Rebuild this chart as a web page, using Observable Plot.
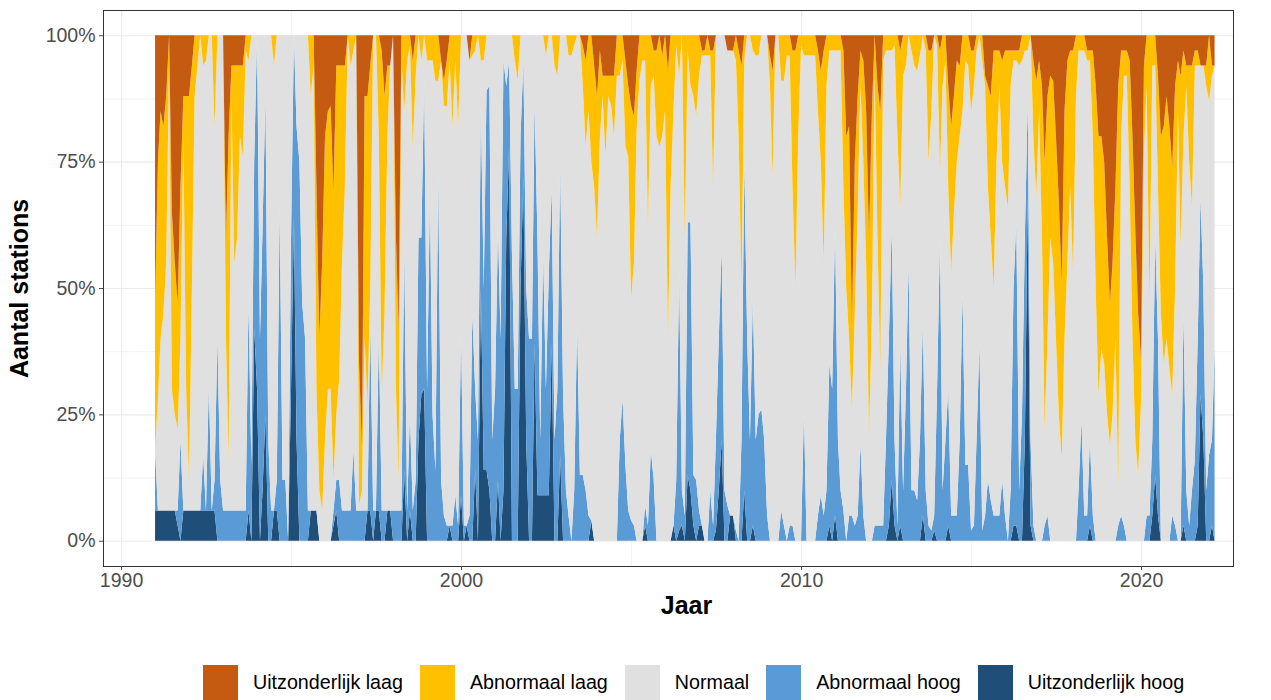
<!DOCTYPE html>
<html>
<head>
<meta charset="utf-8">
<script src="https://cdn.jsdelivr.net/npm/d3@7"></script>
<script src="https://cdn.jsdelivr.net/npm/@observablehq/plot@0.6"></script>
<style>
  html, body { margin: 0; padding: 0; background: #ffffff; }
  body { width: 1271px; height: 700px; overflow: hidden; position: relative; font-family: "Liberation Sans", Arial, sans-serif; }
  #chart svg { display: block; }
  #legend { position: absolute; top: 665px; left: 203px; display: flex; align-items: center; font-size: 19.7px; color: #000; white-space: nowrap; }
  .item { display: flex; align-items: center; margin-right: 17px; }
  .swatch { width: 35px; height: 35px; margin-right: 15px; }
</style>
</head>
<body>
<div id="chart"></div>
<div id="legend"></div>
<script>
// Monthly series, starting January 1991 (percent of stations per class)
const startYear = 1991;
const categories = ["Uitzonderlijk laag", "Abnormaal laag", "Normaal", "Abnormaal hoog", "Uitzonderlijk hoog"];
const colors = ["#c55a11", "#ffc000", "#e0e0e0", "#5b9bd5", "#1f4e79"];
const stackOrder = ["Uitzonderlijk hoog", "Abnormaal hoog", "Normaal", "Abnormaal laag", "Uitzonderlijk laag"];
const yTicks = [0, 25, 50, 75, 100];
const yMinorTicks = [12.5, 37.5, 62.5, 87.5];
const xTickYears = [1990, 2000, 2010, 2020];
const xMinorYears = [1995, 2005, 2015];

const uitzonderlijkHoog = [
  6,6,6,6,6,6,6,6,3,0,6,6,
  6,6,6,6,6,6,6,6,6,6,0,0,
  0,0,0,0,0,0,0,0,0,6,0,42,
  30,0,10,25,0,0,6,6,0,0,0,0,
  30,64,20,0,0,0,0,6,6,6,0,0,
  0,0,0,3,6,0,0,0,0,0,0,0,
  0,0,0,6,6,0,6,6,0,0,6,6,
  0,0,0,0,14,0,6,0,0,20,29,30,
  0,0,0,0,0,0,0,0,3,0,0,0,
  9,0,3,0,0,14,0,50,14,14,10,0,
  0,12,0,10,60,78,0,0,0,50,72,20,
  0,0,39,9,9,9,9,9,39,0,0,17,
  0,0,0,0,0,0,0,0,0,0,4,0,
  0,0,0,0,0,0,0,0,0,0,0,0,
  0,0,0,0,0,3,0,0,0,0,0,0,
  0,0,0,3,0,2,3,0,13,10,3,0,
  3,3,0,0,0,0,2,10,20,0,0,5,
  5,0,0,0,10,0,0,3,0,0,0,0,
  0,0,0,0,0,0,0,0,0,0,0,0,
  0,0,0,0,0,0,0,0,0,0,3,0,
  5,0,0,0,0,0,0,0,0,0,0,0,
  0,0,0,0,0,0,0,3,12,3,0,3,
  0,0,0,0,0,0,0,5,0,0,0,2,
  0,0,0,0,3,0,0,0,0,0,0,0,
  0,0,0,0,0,0,0,0,0,0,0,0,
  0,0,0,3,3,0,0,20,68,3,0,0,
  0,0,0,0,0,0,0,0,0,0,0,0,
  0,0,0,0,0,0,3,0,0,0,0,0,
  0,0,0,0,0,0,0,0,0,0,0,0,
  0,0,0,0,5,13,5,0,0,0,0,0,
  0,0,0,3,0,0,0,0,3,29,20,0,
  0,3,0
];

const abnormaalHoog = [
  12,0,0,0,0,0,0,0,3,20,0,0,
  0,0,0,0,0,11,0,25,0,6,40,12,
  6,6,6,6,6,6,6,6,6,41,15,33,
  70,40,52,63,20,6,0,6,66,12,12,0,
  30,36,62,75,47,40,6,0,0,0,0,0,
  0,0,0,3,6,12,6,6,6,6,18,6,
  6,6,6,0,37,6,0,35,6,6,0,0,
  6,6,6,6,44,6,19,6,12,40,31,61,
  30,68,25,14,73,12,5,3,0,3,9,3,
  32,3,0,5,45,16,20,36,36,75,80,20,
  30,50,40,85,30,17,57,30,30,30,23,30,
  40,40,48,51,11,48,21,44,31,20,30,58,
  29,10,5,0,10,43,13,13,10,5,0,0,
  0,0,0,0,0,0,0,0,20,28,15,6,
  4,3,0,0,0,4,3,18,12,0,0,0,
  0,0,0,0,12,51,7,5,50,53,10,12,
  3,0,0,0,10,3,18,30,38,10,7,0,
  0,2,0,20,65,40,20,45,20,25,26,20,
  5,0,0,0,0,6,3,0,3,3,0,0,
  0,26,0,0,0,0,5,9,5,10,32,30,
  57,20,10,6,0,5,5,3,5,19,5,0,
  0,0,3,3,3,3,20,37,50,17,3,36,
  10,30,55,10,10,8,20,38,10,3,2,3,
  30,60,10,20,27,5,5,5,20,49,15,15,
  2,3,20,39,2,5,12,8,5,5,5,12,
  5,0,10,47,60,10,25,40,19,17,3,0,
  0,0,3,5,0,0,0,0,0,0,0,0,
  0,0,10,24,5,5,17,5,0,0,0,0,
  0,0,0,0,3,5,3,0,0,0,0,0,
  0,0,5,5,15,47,35,0,0,0,0,5,
  3,0,0,42,10,3,10,16,37,39,30,10,
  17,17,38
];

const abnormaalLaag = [
  29,47,45,37,33,5,35,30,25,30,8,58,
  76,44,12,6,0,6,5,0,0,18,0,0,
  0,20,64,6,39,34,14,18,3,5,0,0,
  0,0,0,0,0,0,6,0,0,0,0,0,
  0,0,0,0,0,0,0,12,6,40,30,49,
  60,55,56,57,69,62,39,24,0,6,3,0,
  28,8,48,61,44,0,0,20,68,43,14,0,
  0,30,30,5,15,5,2,17,8,0,5,0,
  5,5,5,9,9,0,5,9,5,18,5,18,
  0,0,0,0,4,3,0,5,5,0,0,0,
  0,0,0,0,0,0,0,5,9,0,0,0,
  0,0,0,0,0,0,4,0,0,6,8,0,
  0,0,4,4,2,0,0,8,17,15,25,24,
  28,17,4,16,4,6,12,8,8,5,17,14,
  38,29,12,9,5,5,38,10,5,17,22,16,
  15,53,30,15,2,8,0,40,3,10,12,16,
  8,1,1,4,1,27,0,0,0,0,0,0,
  0,5,17,44,5,0,0,3,4,4,0,0,
  0,6,21,0,0,9,9,4,4,27,47,20,
  2,4,4,4,4,4,12,18,42,10,3,3,
  3,3,3,27,30,42,16,30,23,7,20,30,
  39,40,7,30,51,5,3,3,3,2,20,31,
  8,6,0,3,6,7,4,0,3,22,12,0,
  2,24,10,5,20,29,23,20,14,15,5,6,
  12,7,3,0,5,2,20,28,47,22,7,20,
  27,31,7,2,2,3,5,3,3,0,15,23,
  10,30,53,48,32,36,40,42,35,45,40,27,
  44,12,3,3,3,2,2,17,40,51,42,40,
  35,28,30,30,79,17,5,5,25,40,41,32,
  8,17,10,53,6,6,22,35,47,48,48,45,
  40,10,34,17,4,19,28,3,3,0,0,4,
  13,2,0
];

const uitzonderlijkLaag = [
  53,25,15,18,12,0,35,45,53,30,12,12,
  12,6,0,0,0,0,0,0,0,0,0,0,
  0,40,20,6,6,6,6,6,0,0,0,0,
  0,0,0,0,0,0,0,0,0,0,0,0,
  0,0,0,0,0,0,0,0,0,30,60,45,
  20,15,14,31,6,6,6,6,0,0,0,0,
  65,82,12,12,6,0,0,0,3,12,6,6,
  0,40,58,0,0,0,0,5,0,0,0,0,
  0,0,0,0,0,5,9,5,0,0,0,0,
  0,0,0,5,0,0,0,0,0,0,0,0,
  0,0,0,0,0,0,0,0,0,0,0,0,
  0,0,0,0,0,0,0,0,0,0,0,0,
  0,0,0,0,0,0,0,2,5,0,0,6,
  12,3,8,8,8,8,8,0,0,0,5,10,
  14,16,7,0,0,0,0,0,3,3,0,4,
  0,7,0,0,0,0,0,0,0,0,0,0,
  0,3,3,0,3,3,0,0,0,0,3,3,
  3,0,3,6,0,0,0,0,0,0,0,0,
  0,4,7,0,0,0,0,0,0,3,3,0,
  0,0,0,0,0,0,3,7,3,0,0,0,
  0,0,0,3,20,18,58,25,12,3,5,15,
  40,15,0,10,15,0,0,0,0,0,0,3,
  0,0,0,0,0,0,0,0,0,3,3,0,
  0,3,0,0,10,18,12,5,6,0,0,0,
  3,3,0,0,0,8,10,12,3,3,3,5,
  3,3,3,3,3,3,0,0,0,0,5,9,
  5,10,25,12,8,9,20,33,49,15,5,3,
  3,0,0,0,0,3,3,3,10,20,20,25,
  40,53,45,30,10,3,3,3,5,20,39,55,
  64,6,0,0,0,0,8,20,18,12,18,26,
  10,5,8,3,6,6,6,3,3,6,6,6,
  0,6,6
];

// Build long table (Normaal is the remaining share of stations)
const rows = [];
for (let m = 0; m < uitzonderlijkHoog.length; m++) {
  const date = new Date(Date.UTC(startYear, m, 1));
  const uh = uitzonderlijkHoog[m], ah = abnormaalHoog[m], al = abnormaalLaag[m], ul = uitzonderlijkLaag[m];
  const nm = Math.max(0, 100 - uh - ah - al - ul);
  rows.push({date, category: "Uitzonderlijk hoog", value: uh});
  rows.push({date, category: "Abnormaal hoog", value: ah});
  rows.push({date, category: "Normaal", value: nm});
  rows.push({date, category: "Abnormaal laag", value: al});
  rows.push({date, category: "Uitzonderlijk laag", value: ul});
}

const yr = y => new Date(Date.UTC(y, 0, 1));
const gridColor = "#ebebeb";

const chart = Plot.plot({
  width: 1271,
  height: 660,
  marginLeft: 103,
  marginRight: 38,
  marginTop: 10,
  marginBottom: 94,
  style: { fontFamily: "'Liberation Sans', Arial, sans-serif", background: "#ffffff", overflow: "visible" },
  x: { type: "utc", domain: [new Date(Date.UTC(1989, 5, 21)), new Date(Date.UTC(2022, 8, 15))] },
  y: { domain: [-5, 105] },
  color: { domain: categories, range: colors },
  marks: [
    Plot.gridX(xMinorYears.map(yr), { stroke: gridColor, strokeOpacity: 1, strokeWidth: 0.6 }),
    Plot.gridY(yMinorTicks, { stroke: gridColor, strokeOpacity: 1, strokeWidth: 0.6 }),
    Plot.gridX(xTickYears.map(yr), { stroke: gridColor, strokeOpacity: 1, strokeWidth: 1.1 }),
    Plot.gridY(yTicks, { stroke: gridColor, strokeOpacity: 1, strokeWidth: 1.1 }),
    Plot.areaY(rows, { x: "date", y: "value", fill: "category", order: stackOrder, curve: "linear" }),
    Plot.frame({ stroke: "#333333", strokeWidth: 1 }),
    Plot.axisX(xTickYears.map(yr), { tickSize: 4, tickPadding: 3, tickFormat: d => String(d.getUTCFullYear()), fontSize: 19.5, color: "#4d4d4d", label: null }),
    Plot.axisY(yTicks, { tickSize: 4, tickPadding: 4, tickFormat: d => d + "%", fontSize: 19.5, color: "#4d4d4d", label: null }),
    Plot.text(["Aantal stations"], { frameAnchor: "left", textAnchor: "middle", dx: -84, rotate: -90, fontSize: 25, fontWeight: "bold", fill: "#000" }),
    Plot.text(["Jaar"], { frameAnchor: "bottom", textAnchor: "middle", dx: 18, dy: 47, fontSize: 25, fontWeight: "bold", fill: "#000" })
  ]
});
document.getElementById("chart").appendChild(chart);

// Legend below the chart
const legend = document.getElementById("legend");
categories.forEach((c, i) => {
  const item = document.createElement("div");
  item.className = "item";
  const sw = document.createElement("div");
  sw.className = "swatch";
  sw.style.background = colors[i];
  const lab = document.createElement("span");
  lab.textContent = c;
  item.appendChild(sw);
  item.appendChild(lab);
  legend.appendChild(item);
});
</script>
</body>
</html>
